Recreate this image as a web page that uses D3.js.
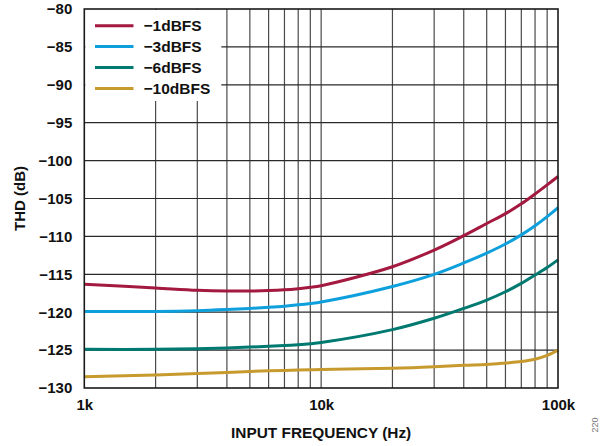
<!DOCTYPE html>
<html>
<head>
<meta charset="utf-8">
<script src="https://cdn.jsdelivr.net/npm/d3@7"></script>
<style>
  html, body { margin: 0; padding: 0; background: #fff; }
  svg { display: block; font-family: "Liberation Sans", Arial, sans-serif; }
</style>
</head>
<body>
<svg id="chart" width="605" height="446"></svg>
<script>
// Input frequency (Hz) sampled for each curve
const frequencies = [1000, 2000, 3000, 4000, 5000, 6000, 7000, 8000, 9000,
  10000, 20000, 30000, 40000, 50000, 60000, 70000, 80000, 90000, 100000];

// THD (dB) per input level
const thdMinus1 = [-116.3, -116.8, -117.1, -117.2, -117.2, -117.15, -117.05, -116.9, -116.72,
  -116.5, -114.0, -111.8, -109.9, -108.3, -107.0, -105.7, -104.4, -103.2, -102.1];
const thdMinus3 = [-119.9, -119.9, -119.8, -119.65, -119.5, -119.35, -119.2, -119.03, -118.85,
  -118.65, -116.6, -115.0, -113.5, -112.2, -111.0, -109.8, -108.6, -107.4, -106.2];
const thdMinus6 = [-124.9, -124.9, -124.82, -124.72, -124.6, -124.5, -124.4, -124.28, -124.15,
  -124.0, -122.3, -120.8, -119.5, -118.4, -117.3, -116.2, -115.1, -114.1, -113.1];
const thdMinus10 = [-128.5, -128.3, -128.1, -127.95, -127.82, -127.74, -127.68, -127.63, -127.59,
  -127.55, -127.4, -127.2, -127.0, -126.9, -126.7, -126.5, -126.2, -125.7, -125.0];

const seriesNames = ["\u22121dBFS", "\u22123dBFS", "\u22126dBFS", "\u221210dBFS"];
const seriesValues = [thdMinus1, thdMinus3, thdMinus6, thdMinus10];
const seriesColors = ["#a3193f", "#0ea0dc", "#007a70", "#c79a2e"];

const xTickValues = [1000, 10000, 100000];
const xTickLabels = ["1k", "10k", "100k"];
const yTickValues = [-80, -85, -90, -95, -100, -105, -110, -115, -120, -125, -130];

const margin = { left: 84.3, right: 47, top: 9, bottom: 58 };
const W = 605, H = 446;
const svg = d3.select("#chart");

const x = d3.scaleLog().domain([1000, 100000]).range([margin.left, W - margin.right]);
const y = d3.scaleLinear().domain([-130, -80]).range([H - margin.bottom, margin.top]);

// minor log grid (2..9 in each decade) plus decades
const gridX = [];
[1000, 10000].forEach(d => { for (let k = 1; k <= 9; k++) gridX.push(d * k); });

const grid = svg.append("g");
grid.selectAll("line.vx").data(gridX.filter(v => v > 1000))
  .enter().append("line")
  .attr("x1", d => x(d)).attr("x2", d => x(d))
  .attr("y1", y(-80)).attr("y2", y(-130))
  .attr("stroke", "#4a4a4a").attr("stroke-width", 1.2);
grid.selectAll("line.hy").data(yTickValues.filter(v => v !== -80 && v !== -130))
  .enter().append("line")
  .attr("x1", x(1000)).attr("x2", x(100000))
  .attr("y1", d => y(d)).attr("y2", d => y(d))
  .attr("stroke", "#2a2a2a").attr("stroke-width", 1.2);

// legend backdrop hides the grid behind it
svg.append("rect")
  .attr("x", x(1000) + 1).attr("y", y(-80) + 1)
  .attr("width", 136).attr("height", 91)
  .attr("fill", "#fff");

// curves
const line = d3.line()
  .x(d => x(d[0])).y(d => y(d[1]))
  .curve(d3.curveCatmullRom.alpha(0.5));
seriesValues.forEach((vals, i) => {
  svg.append("path")
    .datum(frequencies.map((f, j) => [f, vals[j]]))
    .attr("d", line)
    .attr("fill", "none")
    .attr("stroke", seriesColors[i])
    .attr("stroke-width", 3)
    .attr("stroke-linejoin", "round");
});

// frame
svg.append("rect")
  .attr("x", x(1000)).attr("y", y(-80))
  .attr("width", x(100000) - x(1000)).attr("height", y(-130) - y(-80))
  .attr("fill", "none").attr("stroke", "#1a1a1a").attr("stroke-width", 1.6);

// axes (labels only)
const yAxis = d3.axisLeft(y).tickValues(yTickValues)
  .tickFormat(d => d3.format("")(d).replace("-", "\u2212")).tickSize(0).tickPadding(12);
const gy = svg.append("g").attr("transform", `translate(${x(1000)},0)`).call(yAxis);
gy.select(".domain").remove();
gy.selectAll("text").attr("font-size", 15).attr("font-weight", "bold")
  .attr("fill", "#111").attr("font-family", "Liberation Sans, Arial, sans-serif");

const xAxis = d3.axisBottom(x).tickValues(xTickValues)
  .tickFormat((d, i) => xTickLabels[i]).tickSize(0).tickPadding(11);
const gx = svg.append("g").attr("transform", `translate(0,${y(-130)})`).call(xAxis);
gx.select(".domain").remove();
gx.selectAll("text").attr("font-size", 15).attr("font-weight", "bold")
  .attr("fill", "#111").attr("font-family", "Liberation Sans, Arial, sans-serif");

// axis titles
svg.append("text")
  .attr("x", (x(1000) + x(100000)) / 2).attr("y", 438)
  .attr("text-anchor", "middle").attr("font-size", 15.4).attr("font-weight", "bold")
  .attr("fill", "#111").text("INPUT FREQUENCY (Hz)");
svg.append("text")
  .attr("transform", `translate(25,${(y(-80) + y(-130)) / 2}) rotate(-90)`)
  .attr("text-anchor", "middle").attr("font-size", 15).attr("font-weight", "bold")
  .attr("fill", "#111").text("THD (dB)");

// legend
const legend = svg.append("g");
seriesNames.forEach((name, i) => {
  const ly = 25.7 + i * 20.9;
  legend.append("line")
    .attr("x1", 95).attr("x2", 133.5).attr("y1", ly).attr("y2", ly)
    .attr("stroke", seriesColors[i]).attr("stroke-width", 3);
  legend.append("text")
    .attr("x", 143.5).attr("y", ly + 5.5)
    .attr("font-size", 15.5).attr("font-weight", "bold").attr("fill", "#111")
    .text(name);
});

// figure number
svg.append("text")
  .attr("transform", "translate(598,425) rotate(-90)")
  .attr("text-anchor", "middle").attr("font-size", 9).attr("fill", "#777")
  .text("220");
</script>
</body>
</html>
